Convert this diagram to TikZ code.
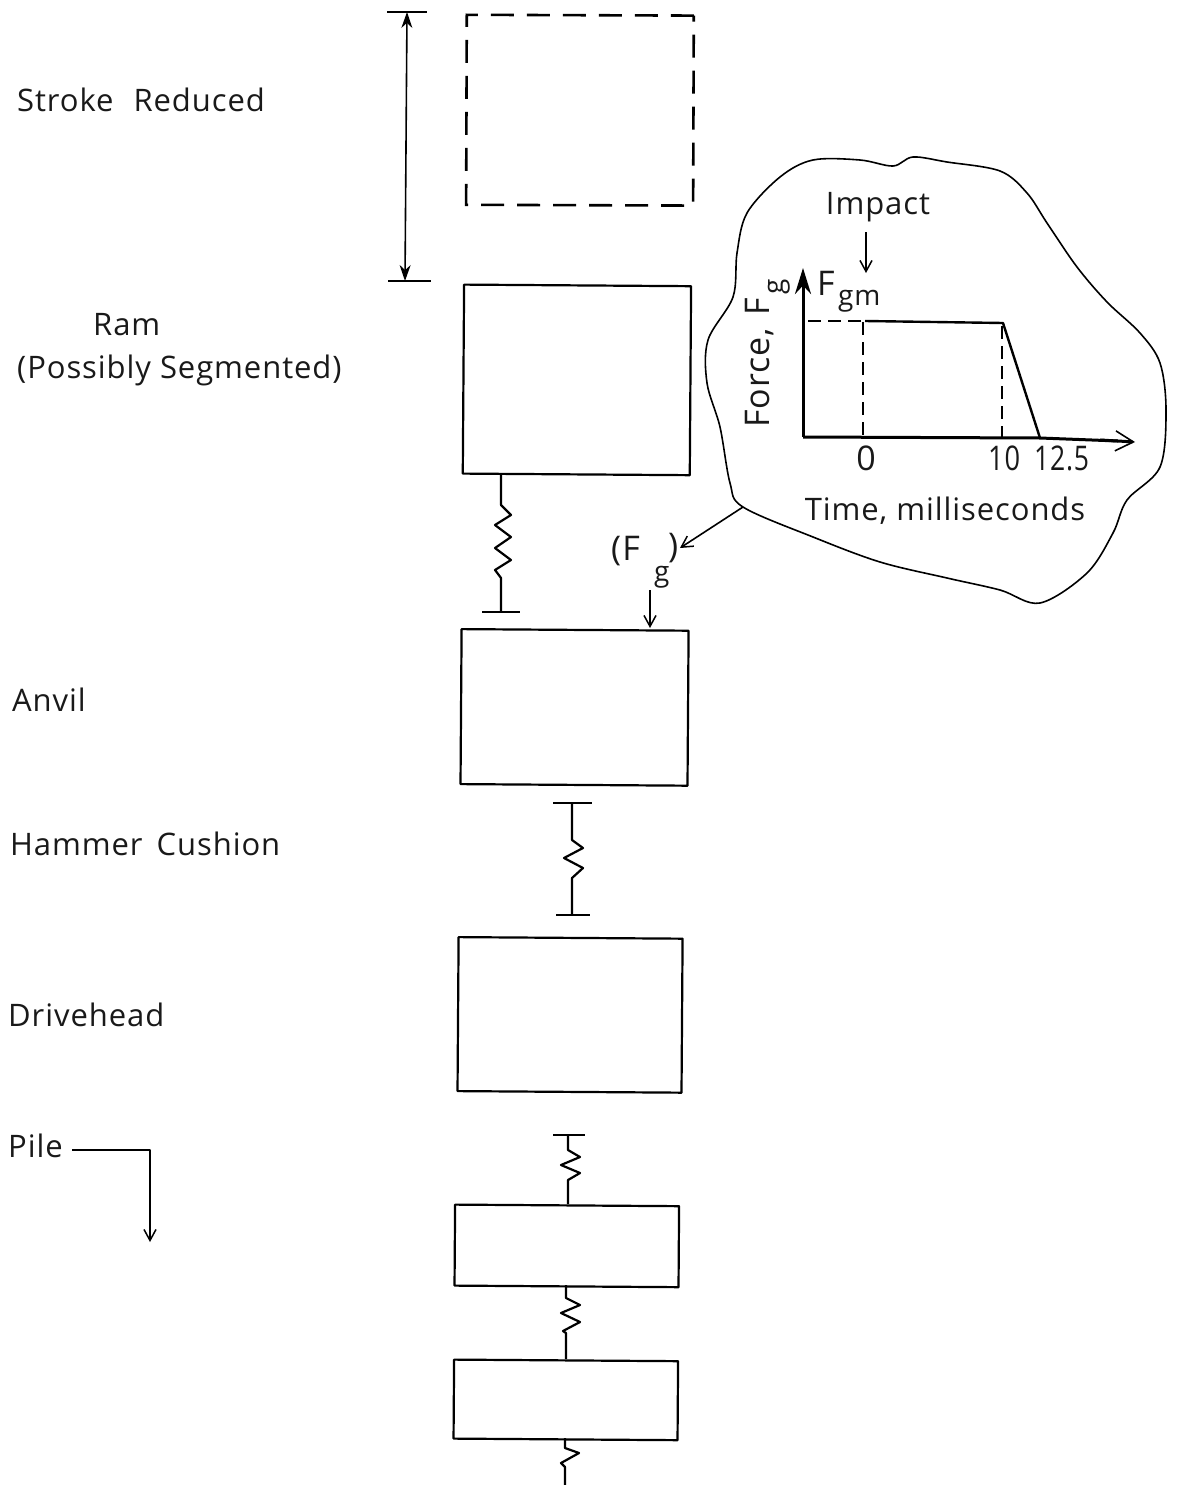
\documentclass[tikz,border=0pt]{standalone}
\usepackage{fontspec}
\setmainfont{Open Sans}[LetterSpace=3]
\usetikzlibrary{arrows.meta}
\tikzset{
  lbl/.style={inner sep=0pt,font=\fontsize{31}{33}\selectfont,text=black!90},
  lblr/.style={lbl,anchor=west},
  lblbig/.style={inner sep=0pt,font=\fontsize{34}{36}\selectfont,text=black!90},
  sub/.style={inner sep=0pt,font=\fontsize{28}{30}\selectfont,text=black!90},
  mass/.style={draw,line width=2.2pt,inner sep=0pt,anchor=north west,line join=round,rotate=-0.4},
  wire/.style={line width=2.2pt,line join=round},
  thin wire/.style={line width=1.6pt,line join=round},
  barb/.style={-{Straight Barb[length=11pt,width=12pt,line width=1.5pt]}},
  solidtip/.style={-{Stealth[length=26pt,width=16pt]}},
  dashbox/.style={draw,line width=2.6pt,dash pattern=on 23pt off 13pt,inner sep=0pt,anchor=north west,rotate=-0.2},
  dashgr/.style={line width=2pt,dash pattern=on 13pt off 7pt}
}
\begin{document}
\begin{tikzpicture}[x=1pt,y=-1pt]
\useasboundingbox (0,0) rectangle (1184,1485);
% masses
\node[dashbox,minimum width=227pt,minimum height=190pt] (ghost) at (465.5,13.5) {};
\node[mass,minimum width=227pt,minimum height=189pt] (ram) at (463,283.5) {};
\node[mass,minimum width=227pt,minimum height=155pt] (anvil) at (460.5,628) {};
\node[mass,minimum width=224pt,minimum height=154pt] (drive) at (457.5,936) {};
\node[mass,minimum width=224pt,minimum height=81pt] (pa) at (454,1203.5) {};
\node[mass,minimum width=224pt,minimum height=79pt] (pb) at (453,1358.5) {};
% labels
\node[lblr] (t1) at (17,100) {Stroke\hspace{11pt} Reduced};
\node[lblr] (t2) at (93,325) {Ram};
\node[lblr] (t3) at (17,370) {(Possibly Segmented)};
\node[lblr] (t4) at (12,700) {Anvil};
\node[lblr] (t5) at (10,844) {Hammer\hspace{5pt} Cushion};
\node[lblr] (t6) at (8,1015) {Drivehead};
\node[lblr] (t7) at (8,1146) {Pile};
% stroke dimension
\coordinate (sa1) at (387,12); \coordinate (sa2) at (427,12);
\coordinate (sb1) at (388,281); \coordinate (sb2) at (431,281);
\coordinate (sa) at (407,12); \coordinate (sb) at (405,281);
\draw[thin wire] (sa1) -- (sa2);
\draw[thin wire] (sb1) -- (sb2);
\draw[thin wire,{Stealth[length=16pt,width=11pt]}-{Stealth[length=16pt,width=11pt]}] (sa) -- (sb);
% ram spring
\coordinate (r1) at (501,612);
\coordinate (r1a) at (482,612); \coordinate (r1b) at (520,612);
\draw[wire] (r1a) -- (r1b);
\draw[wire] (501,473) -- (501,505) -- (511,515) -- (495,525) -- (511,537) -- (495,548) -- (511,560) -- (495,570) -- (501,578) -- (r1);
% hammer cushion
\coordinate (h1a) at (553,803); \coordinate (h1b) at (592,803);
\coordinate (h2a) at (556,915); \coordinate (h2b) at (590,915);
\coordinate (h1) at (572,803); \coordinate (h2) at (572,915);
\draw[wire] (h1a) -- (h1b);
\draw[wire] (h2a) -- (h2b);
\draw[wire] (h1) -- (572,840) -- (583,848) -- (564,858) -- (583,868) -- (572,878) -- (h2);
% pile springs
\coordinate (p1a) at (553,1135); \coordinate (p1b) at (585,1135); \coordinate (p1) at (568,1135);
\draw[wire] (p1a) -- (p1b);
\draw[wire] (p1) -- (568,1150) -- (580,1157) -- (561,1165) -- (580,1173) -- (568,1180) -- (568,1204);
\draw[wire] (566,1285) -- (566,1298) -- (580,1305) -- (561,1313) -- (580,1322) -- (563,1331) -- (566,1333) -- (566,1359);
\coordinate (pe) at (565,1485);
\draw[wire] (565,1438) -- (565,1448) -- (579,1453) -- (561,1463) -- (565,1467) -- (pe);
% pile arrow
\coordinate (pl1) at (72,1150); \coordinate (pl2) at (150,1150); \coordinate (pl3) at (150,1242);
\draw[thin wire,barb] (pl1) -- (pl2) -- (pl3);
% blob
\draw[line width=1.6pt,line join=round] plot[smooth cycle,tension=0.55] coordinates {
 (893,166) (913,157) (947,162) (1000,171) (1027,193) (1047,223) (1077,267) (1107,302)
 (1140,333) (1160,363) (1166,410) (1160,467) (1127,500) (1113,533) (1087,573) (1040,603)
 (1000,590) (947,578) (880,562) (813,537) (743,507) (730,483) (720,427) (707,383)
 (708,340) (733,297) (737,253) (747,213) (780,177) (813,160) (860,160)};
% inner graph
\coordinate (o) at (803,437); \coordinate (yt) at (803,268); \coordinate (xt) at (1135,442);
\draw[line width=3pt,solidtip] (o) -- (yt);
\draw[line width=3pt] (o) -- (1040,438) -- (1118,441);
\draw[line width=3pt,-{Straight Barb[length=18pt,width=20pt,line width=1.6pt]}] (1100,440) -- (xt);
\draw[dashgr] (808,321) -- (865,321);
\draw[dashgr] (863,322) -- (863,437);
\draw[dashgr] (1002,326) -- (1002,438);
\draw[line width=2.4pt,line join=round] (865,321) -- (1003,323) -- (1040,438);
\node[lbl] (imp) at (878,207) {Impact};
\coordinate (ia) at (866,232); \coordinate (ib) at (866,273);
\draw[thin wire,barb] (ia) -- (ib);
\node[lblbig,anchor=west] (fm) at (817,283) {F};
\node[sub,anchor=west] (gm) at (838,301) {gm};
\node[lblbig,rotate=90,anchor=west] (fg) at (760,428) {Force,\hspace{3pt} F};
\node[sub,rotate=90] (fgs) at (779,287) {g};
\node[lblbig] (n0) at (866,458) {0};
\node[lblbig,anchor=west,xscale=0.8] (n10) at (988,458) {10};
\node[lblbig,anchor=west,xscale=0.78] (n12) at (1034,458) {12.5};
\node[lbl] (tm) at (945,511) {Time, milliseconds};
% force tag
\node[lblbig,anchor=west] (fp) at (611,551) {(F};
\node[sub,anchor=west] (fps) at (654,577) {g};
\node[lblbig,anchor=west] (fpc) at (668,548) {)};
\coordinate (bf) at (743,507); \coordinate (ft) at (680,548);
\draw[thin wire,barb] (bf) -- (ft);
\coordinate (aa) at (650,590); \coordinate (ab) at (650,628);
\draw[thin wire,barb] (aa) -- (ab);
\end{tikzpicture}
\end{document}
